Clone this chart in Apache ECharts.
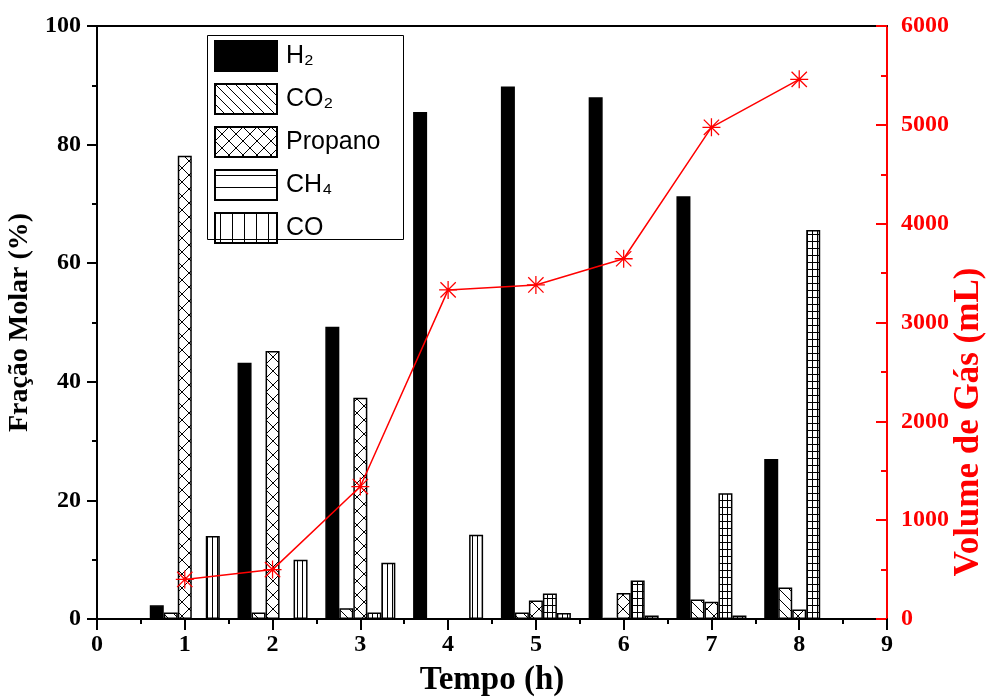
<!DOCTYPE html>
<html>
<head>
    <meta charset="utf-8">
    <title>Fração Molar x Tempo</title>
    <script src="https://cdn.jsdelivr.net/npm/echarts@6/dist/echarts.min.js"></script>
    <style type="text/css">
        body{ margin:0; background:#fff; }
        #main{ width:992px; height:697px; }
    </style>
</head>
<body>
<div id="main"></div>
<script>
    // dados
    var times = [1, 2, 3, 4, 5, 6, 7, 8];
    var h2 = [2.3, 43.2, 49.3, 85.5, 89.8, 88.0, 71.3, 27.0];
    var co2 = [1.1, 1.1, 1.8, 0, 1.1, 0.2, 3.3, 5.3];
    var propano = [78.1, 45.2, 37.3, 0, 3.1, 4.4, 2.9, 1.6];
    var ch4 = [0, 0, 1.1, 0, 4.3, 6.5, 21.2, 65.6];
    var co = [14.0, 10.0, 9.5, 14.2, 1.0, 0.6, 0.6, 0];
    var volume = [400, 500, 1340, 3330, 3380, 3645, 4975, 5460];
    var leftTicks = [0, 20, 40, 60, 80, 100];
    var rightTicks = [0, 1000, 2000, 3000, 4000, 5000, 6000];
    var legendNames = ['H₂', 'CO₂', 'Propano', 'CH₄', 'CO'];

    var serif = 'Liberation Serif';
    var sans = 'Liberation Sans';

    function pattern(w, h, draw) {
        var c = document.createElement('canvas');
        c.width = w; c.height = h;
        var ctx = c.getContext('2d');
        ctx.fillStyle = '#fff';
        ctx.fillRect(0, 0, w, h);
        ctx.strokeStyle = '#000';
        ctx.lineWidth = 1;
        ctx.beginPath();
        draw(ctx, w, h);
        ctx.stroke();
        return {image: c, repeat: 'repeat'};
    }
    var diag = pattern(10, 10, function (ctx, w, h) {
        ctx.moveTo(-1, -1); ctx.lineTo(w + 1, h + 1);
        ctx.moveTo(-1, h - 1); ctx.lineTo(1, h + 1);
        ctx.moveTo(w - 1, -1); ctx.lineTo(w + 1, 1);
    });
    var cross = pattern(14, 14, function (ctx, w, h) {
        ctx.moveTo(-1, -1); ctx.lineTo(w + 1, h + 1);
        ctx.moveTo(w + 1, -1); ctx.lineTo(-1, h + 1);
    });
    var horiz = pattern(12, 12, function (ctx, w, h) {
        ctx.moveTo(0, 5.5); ctx.lineTo(w, 5.5);
    });
    var vertWide = pattern(12, 12, function (ctx, w, h) {
        ctx.moveTo(5.5, 0); ctx.lineTo(5.5, h);
    });
    var vertThin = pattern(5, 10, function (ctx, w, h) {
        ctx.moveTo(2.5, 0); ctx.lineTo(2.5, h);
    });
    var grid = pattern(5, 7, function (ctx, w, h) {
        ctx.moveTo(2.5, 0); ctx.lineTo(2.5, h);
        ctx.moveTo(0, 3.5); ctx.lineTo(w, 3.5);
    });

    function pairs(vals, fills) {
        return vals.map(function (v, i) {
            var item = {value: [times[i], v]};
            if (fills) item.itemStyle = {color: fills(i)};
            return item;
        });
    }
    function barSeries(name, vals, color, fills) {
        return {
            name: name,
            type: 'bar',
            xAxisIndex: 0,
            yAxisIndex: 0,
            barWidth: 14,
            barGap: '0%',
            itemStyle: {color: color, borderColor: '#000', borderWidth: 1.5},
            data: pairs(vals, fills)
        };
    }

    var asterisk = 'path://M9.3 0L10.7 0L10.7 20L9.3 20Z M0 9.3L20 9.3L20 10.7L0 10.7Z M2 1L19 18L18 19L1 2Z M18 1L19 2L2 19L1 18Z';

    var myChart = echarts.init(document.getElementById('main'));
    var option = {
        animation: false,
        grid: {left: 97, right: 105, top: 26, bottom: 78, outerBoundsMode: 'none', containLabel: false},
        legend: {
            data: legendNames,
            orient: 'vertical',
            left: 214,
            top: 40,
            padding: 0,
            itemWidth: 62,
            itemHeight: 30,
            itemGap: 11,
            icon: 'rect',
            textStyle: {fontFamily: sans, fontSize: 25, color: '#000', padding: [0, 0, 0, 4]}
        },
        graphic: [{
            type: 'rect',
            shape: {x: 207.5, y: 35.5, width: 196, height: 204},
            style: {fill: null, stroke: '#000', lineWidth: 1},
            z: 100
        }, {
            type: 'text',
            x: 969,
            y: 422,
            rotation: Math.PI / 2,
            style: {
                text: 'Volume de Gás (mL)',
                fill: '#ff0000',
                font: 'bold 35px "Liberation Serif"',
                align: 'center',
                verticalAlign: 'middle'
            }
        }],
        xAxis: [{
            type: 'value',
            min: 0,
            max: 9,
            interval: 1,
            name: 'Tempo (h)',
            nameLocation: 'middle',
            nameGap: 45,
            nameTextStyle: {fontFamily: serif, fontWeight: 'bold', fontSize: 33, color: '#000'},
            axisLine: {onZero: false, lineStyle: {color: '#000', width: 2}},
            axisTick: {length: 11, lineStyle: {width: 2}},
            minorTick: {show: true, splitNumber: 2, length: 5, lineStyle: {color: '#000', width: 2}},
            splitLine: {show: false},
            axisLabel: {fontFamily: serif, fontWeight: 'bold', fontSize: 24, color: '#000', margin: 14}
        }, {
            type: 'value',
            position: 'top',
            min: 0,
            max: 9,
            interval: 1,
            axisLine: {show: true, onZero: false, lineStyle: {color: '#000', width: 2}},
            axisTick: {show: false},
            axisLabel: {show: false},
            splitLine: {show: false}
        }],
        yAxis: [{
            type: 'value',
            position: 'left',
            min: leftTicks[0],
            max: leftTicks[leftTicks.length - 1],
            interval: leftTicks[1] - leftTicks[0],
            name: 'Fração Molar (%)',
            nameLocation: 'middle',
            nameGap: 52,
            nameTextStyle: {fontFamily: serif, fontWeight: 'bold', fontSize: 28, color: '#000'},
            axisLine: {show: true, onZero: false, lineStyle: {color: '#000', width: 2}},
            axisTick: {show: true, length: 10, lineStyle: {width: 2}},
            minorTick: {show: true, splitNumber: 2, length: 5, lineStyle: {color: '#000', width: 2}},
            splitLine: {show: false},
            axisLabel: {fontFamily: serif, fontWeight: 'bold', fontSize: 24, color: '#000', margin: 16}
        }, {
            type: 'value',
            position: 'right',
            min: rightTicks[0],
            max: rightTicks[rightTicks.length - 1],
            interval: rightTicks[1] - rightTicks[0],
            axisLine: {show: true, onZero: false, lineStyle: {color: '#ff0000', width: 2}},
            axisTick: {show: true, inside: true, length: 11, lineStyle: {width: 2}},
            minorTick: {show: true, splitNumber: 2, length: 6, lineStyle: {color: '#ff0000', width: 2}},
            splitLine: {show: false},
            axisLabel: {
                fontFamily: serif, fontWeight: 'bold', fontSize: 24, color: '#ff0000', margin: 14,
                formatter: function (v) { return String(v); }
            }
        }],
        series: [
            barSeries(legendNames[0], h2, '#000'),
            barSeries(legendNames[1], co2, diag),
            barSeries(legendNames[2], propano, cross),
            barSeries(legendNames[3], ch4, horiz, function (i) { return times[i] >= 5 ? grid : vertThin; }),
            barSeries(legendNames[4], co, vertWide, function (i) { return times[i] >= 5 ? grid : vertThin; }),
            {
                name: 'Volume',
                type: 'line',
                xAxisIndex: 0,
                yAxisIndex: 1,
                z: 5,
                symbol: asterisk,
                symbolSize: 18,
                itemStyle: {color: '#ff0000'},
                lineStyle: {color: '#ff0000', width: 1.5},
                data: volume.map(function (v, i) { return [times[i], v]; })
            }
        ]
    };
    myChart.setOption(option);
</script>
</body>
</html>
